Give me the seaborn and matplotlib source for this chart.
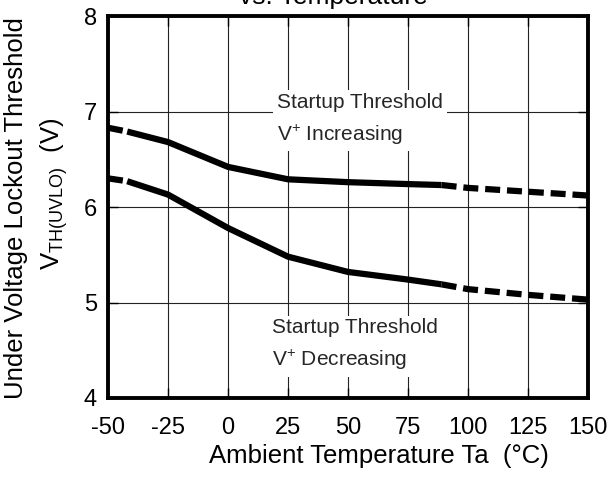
import matplotlib
matplotlib.use("Agg")
import matplotlib.pyplot as plt
import seaborn as sns
import numpy as np
import pandas as pd

# ---- data ----
temps = [-50, -42, -25, 0, 25, 50, 75, 89, 100, 125, 150]
v_increasing = [6.83, 6.79, 6.68, 6.42, 6.29, 6.26, 6.24, 6.23, 6.20, 6.16, 6.12]
v_decreasing = [6.30, 6.27, 6.13, 5.78, 5.48, 5.32, 5.24, 5.19, 5.14, 5.08, 5.03]
solid_from, solid_to = -42, 89      # measured (solid) range; outside is dashed
x_ticks = [-50, -25, 0, 25, 50, 75, 100, 125, 150]
y_ticks = [4, 5, 6, 7, 8]

sns.set_theme(style="white")
plt.rcParams['font.family'] = ['Liberation Sans', 'DejaVu Sans']
plt.rcParams['mathtext.fontset'] = 'custom'
plt.rcParams['mathtext.rm'] = 'Liberation Sans'
plt.rcParams['mathtext.it'] = 'Liberation Sans'

fig = plt.figure(figsize=(6.11, 4.79), dpi=100)
ax = fig.add_axes([108/611, 1-398/479, 480/611, 382/479])

df = pd.DataFrame({"T": temps, "inc": v_increasing, "dec": v_decreasing})
lw = 4.5
dash = (0, (2.4, 1.1))
for col in ["inc", "dec"]:
    left = df[df["T"] <= solid_from]
    mid = df[(df["T"] >= solid_from) & (df["T"] <= solid_to)]
    right = df[df["T"] >= solid_to]
    sns.lineplot(data=left, x="T", y=col, ax=ax, color="black", lw=lw,
                 linestyle=dash, zorder=3)
    sns.lineplot(data=mid, x="T", y=col, ax=ax, color="black", lw=lw,
                 linestyle="-", zorder=3, solid_capstyle="butt")
    sns.lineplot(data=right, x="T", y=col, ax=ax, color="black", lw=lw,
                 linestyle=dash, zorder=3)

ax.set_xlim(-50, 150)
ax.set_ylim(4, 8)
ax.set_xticks(x_ticks)
ax.set_yticks(y_ticks)
ax.set_xticklabels([str(t) for t in x_ticks])
ax.set_yticklabels([str(t) for t in y_ticks])
ax.grid(True, color="#222222", lw=0.8, zorder=0)
ax.set_axisbelow(True)
for s in ax.spines.values():
    s.set_linewidth(2.8)
    s.set_color("black")
    s.set_visible(True)
ax.tick_params(direction="in", length=7, width=1, color="black",
               top=True, right=True, bottom=True, left=True,
               labelsize=17, labelcolor="black")
ax.tick_params(axis="x", pad=14)
ax.tick_params(axis="y", pad=8)
ax.set_xlabel("")
ax.set_ylabel("")

fig.text(379/611, 1-456/479, "Ambient Temperature Ta  (°C)", ha="center",
         va="center", fontsize=18.5, color="black")
fig.text(16.5/611, 1-208/479, "Under Voltage Lockout Threshold", rotation=90,
         ha="center", va="center", fontsize=18.5, color="black")
fig.text(54/611, 1-194/479, r"V$_{\mathregular{TH(UVLO)}}$  (V)", rotation=90,
         ha="center", va="center", fontsize=18.5, color="black")
fig.text(333/611, 1-4/479, "vs. Temperature", ha="center", va="baseline",
         fontsize=19, color="black")

box = dict(facecolor="white", edgecolor="none", pad=3)
ax.text(20.4, 6.916, "Startup Threshold\nV$^{+}$ Increasing", ha="left",
        va="center", fontsize=15, linespacing=1.6, bbox=box, zorder=4)
ax.text(18.3, 4.55, "Startup Threshold\nV$^{+}$ Decreasing", ha="left",
        va="center", fontsize=15, linespacing=1.6, bbox=box, zorder=4)

fig.savefig("out.png", dpi=100)
